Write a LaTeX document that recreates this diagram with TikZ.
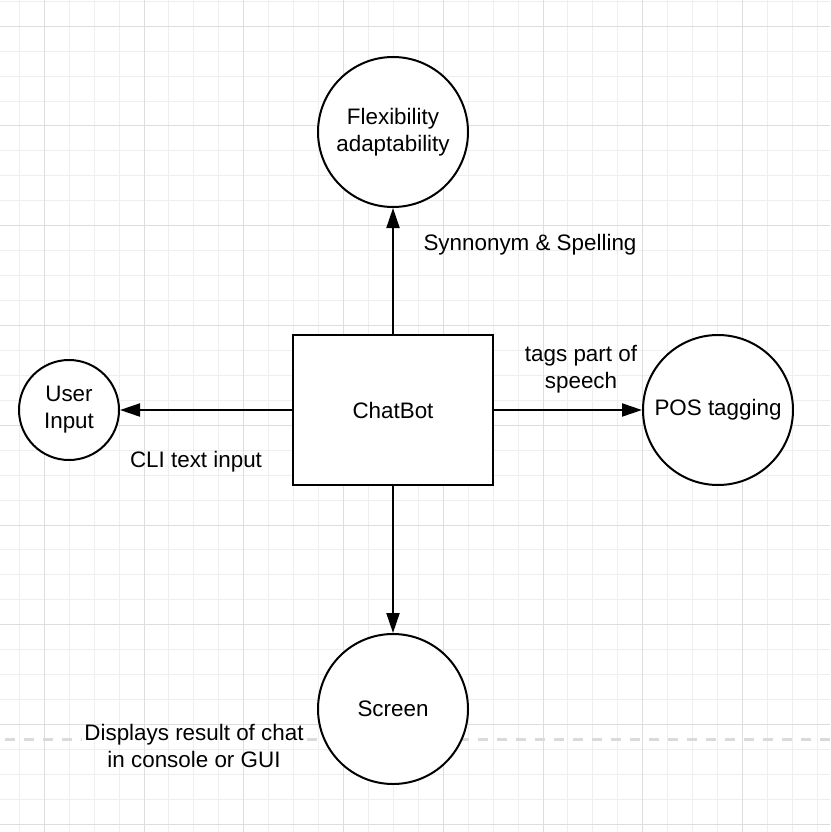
\documentclass[tikz,border=0pt]{standalone}
\usepackage{fontspec}
\setmainfont{Liberation Sans}
\usetikzlibrary{arrows.meta, positioning}

\definecolor{gridminor}{HTML}{EEEEEE}
\definecolor{gridmajor}{HTML}{DDDDDD}
\definecolor{breakgray}{HTML}{DADADA}

\tikzset{
  bubble/.style={circle, draw, line width=2pt, fill=white, minimum size=150pt, inner sep=0pt, align=center},
  smallbubble/.style={bubble, minimum size=100pt},
  block/.style={rectangle, draw, line width=2pt, fill=white, minimum width=200pt, minimum height=150pt},
  flow/.style={line width=2pt, -{Triangle[length=20pt, width=13pt]}},
  lbl/.style={align=center, inner sep=3pt},
  minorline/.style={gridminor, line width=1pt},
  majorline/.style={gridmajor, line width=1pt},
  pagebreak/.style={breakgray, line width=3pt, dash pattern=on 10pt off 9pt}
}

\begin{document}
\begin{tikzpicture}[x=1pt, y=-1pt, node distance=3cm, on grid, font=\fontsize{22.4}{27}\selectfont]
\useasboundingbox (0,0) rectangle (830,832);

% background grid
\foreach \i in {0,...,32}
  \draw[minorline] ({19.3+24.94*\i},0) -- ({19.3+24.94*\i},832);
\foreach \i in {0,...,33}
  \draw[minorline] (0,{1.3+24.94*\i}) -- (830,{1.3+24.94*\i});
\foreach \i in {1,5,...,29}
  \draw[majorline] ({19.3+24.94*\i},0) -- ({19.3+24.94*\i},832);
\foreach \i in {1,5,...,33}
  \draw[majorline] (0,{1.3+24.94*\i}) -- (830,{1.3+24.94*\i});

% page break line
\node[lbl] (disp) at (194,746) {Displays result of chat\\in console or GUI};
\coordinate (breakL) at (5,739);
\coordinate (breakR) at (830,739);
\draw[pagebreak] (breakL) -- (disp.west |- breakL);
\draw[pagebreak] (disp.east |- breakR) -- (breakR);

% nodes
\node[block] (chat) at (393,410) {ChatBot};
\node[bubble] (flex) [above=278pt of chat] {Flexibility\\adaptability};
\node[smallbubble] (user) [left=324pt of chat] {User\\Input};
\node[bubble] (pos) [right=325pt of chat] {POS tagging};
\node[bubble] (screen) [below=299pt of chat] {Screen};

% arrows
\draw[flow] (chat) -- (flex);
\draw[flow] (chat) -- (user);
\draw[flow] (chat) -- (pos);
\draw[flow] (chat) -- (screen);

% labels
\node[lbl] (syn) at (530,245) {Synnonym \& Spelling};
\node[lbl] (tags) at (581,369) {tags part of\\speech};
\node[lbl] (cli) at (196,462) {CLI text input};
\end{tikzpicture}
\end{document}
